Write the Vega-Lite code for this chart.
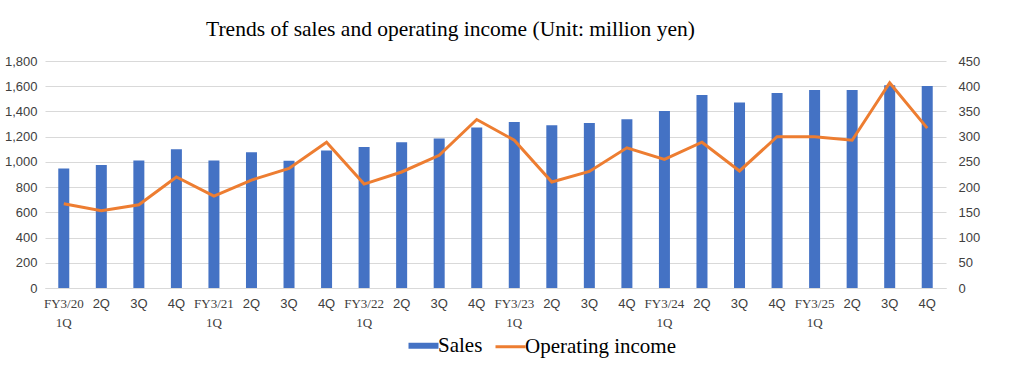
{
  "$schema": "https://vega.github.io/schema/vega-lite/v6.json",
  "width": 901,
  "height": 227,
  "autosize": {"type": "none"},
  "padding": {"left": 45, "top": 61, "right": 67, "bottom": 90},
  "background": "white",
  "title": {
    "text": "Trends of sales and operating income (Unit: million yen)",
    "font": "Liberation Serif",
    "fontSize": 21.5,
    "fontWeight": "normal",
    "color": "#000000",
    "anchor": "middle",
    "dx": -45,
    "offset": 15
  },
  "data": {
    "values": [
      {"period": "FY3/20|1Q", "sales": 947, "oi": 167},
      {"period": "FY3/20|2Q", "sales": 975, "oi": 153},
      {"period": "FY3/20|3Q", "sales": 1012, "oi": 165},
      {"period": "FY3/20|4Q", "sales": 1100, "oi": 220},
      {"period": "FY3/21|1Q", "sales": 1012, "oi": 182},
      {"period": "FY3/21|2Q", "sales": 1076, "oi": 214},
      {"period": "FY3/21|3Q", "sales": 1010, "oi": 237},
      {"period": "FY3/21|4Q", "sales": 1090, "oi": 289},
      {"period": "FY3/22|1Q", "sales": 1118, "oi": 206},
      {"period": "FY3/22|2Q", "sales": 1155, "oi": 230},
      {"period": "FY3/22|3Q", "sales": 1185, "oi": 263},
      {"period": "FY3/22|4Q", "sales": 1272, "oi": 334},
      {"period": "FY3/23|1Q", "sales": 1316, "oi": 293},
      {"period": "FY3/23|2Q", "sales": 1290, "oi": 210},
      {"period": "FY3/23|3Q", "sales": 1308, "oi": 231},
      {"period": "FY3/23|4Q", "sales": 1338, "oi": 278},
      {"period": "FY3/24|1Q", "sales": 1404, "oi": 255},
      {"period": "FY3/24|2Q", "sales": 1530, "oi": 289},
      {"period": "FY3/24|3Q", "sales": 1470, "oi": 232},
      {"period": "FY3/24|4Q", "sales": 1547, "oi": 300},
      {"period": "FY3/25|1Q", "sales": 1570, "oi": 300},
      {"period": "FY3/25|2Q", "sales": 1570, "oi": 293},
      {"period": "FY3/25|3Q", "sales": 1607, "oi": 407},
      {"period": "FY3/25|4Q", "sales": 1602, "oi": 317}
    ]
  },
  "encoding": {
    "x": {
      "field": "period",
      "type": "nominal",
      "sort": null,
      "scale": {"paddingInner": 0, "paddingOuter": 0},
      "axis": {
        "title": null,
        "labelAngle": 0,
        "ticks": false,
        "domainColor": "#d9d9d9",
        "labelPadding": 9,
        "labelFontSize": 13,
        "labelColor": "#404040",
        "labelLineHeight": 19,
        "labelFont": {"expr": "slice(datum.value, 7) == '1Q' ? 'Liberation Serif' : 'Liberation Sans'"},
        "labelExpr": "slice(datum.label, 7) == '1Q' ? split(datum.label, '|') : slice(datum.label, 7)"
      }
    }
  },
  "layer": [
    {
      "mark": {"type": "bar", "size": 11},
      "encoding": {
        "y": {
          "field": "sales",
          "type": "quantitative",
          "scale": {"domain": [0, 1800], "nice": false},
          "axis": {
            "title": null,
            "values": [0, 200, 400, 600, 800, 1000, 1200, 1400, 1600, 1800],
            "format": ",d",
            "domain": false,
            "ticks": false,
            "gridColor": "#d9d9d9",
            "labelPadding": 8,
            "labelFontSize": 13,
            "labelFont": "Liberation Sans",
            "labelColor": "#404040"
          }
        },
        "color": {
          "datum": "Sales",
          "type": "nominal",
          "scale": {"domain": ["Sales", "Operating income"], "range": ["#4472C4", "#ED7D31"]},
          "legend": {
            "title": null,
            "orient": "none",
            "direction": "horizontal",
            "legendX": 368,
            "legendY": 274,
            "symbolType": "stroke",
            "symbolSize": 900,
            "symbolStrokeWidth": 3,
            "labelOffset": 4,
            "columnPadding": 6,
            "labelLimit": 300,
            "encode": {
              "symbols": {"update": {"strokeWidth": {"signal": "datum.value == 'Sales' ? 6 : 3"}}}
            }
          }
        }
      }
    },
    {
      "mark": {"type": "line", "strokeWidth": 3},
      "encoding": {
        "y": {
          "field": "oi",
          "type": "quantitative",
          "scale": {"domain": [0, 450], "nice": false},
          "axis": {
            "title": null,
            "orient": "right",
            "values": [0, 50, 100, 150, 200, 250, 300, 350, 400, 450],
            "domain": false,
            "ticks": false,
            "grid": false,
            "labelPadding": 12,
            "labelFontSize": 13,
            "labelFont": "Liberation Sans",
            "labelColor": "#404040"
          }
        },
        "color": {"datum": "Operating income", "type": "nominal"}
      }
    }
  ],
  "resolve": {"scale": {"y": "independent"}},
  "config": {
    "view": {"stroke": null},
    "legend": {"labelFont": "Liberation Serif", "labelFontSize": 21, "labelColor": "#000000"}
  }
}
